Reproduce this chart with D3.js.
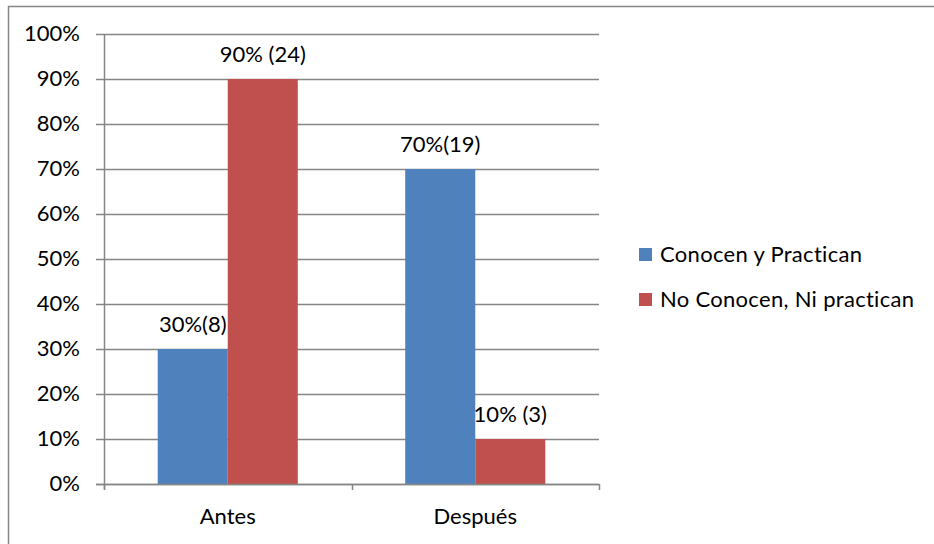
<!DOCTYPE html>
<html>
<head>
<meta charset="utf-8">
<script src="https://cdn.jsdelivr.net/npm/d3@7"></script>
<style>
  body { margin: 0; background: #fff; }
  text { font-family: Lato, "Open Sans", sans-serif; fill: #000; }
</style>
</head>
<body>
<div id="chart"></div>
<script>
// data
const categories = ["Antes", "Después"];
const seriesNames = ["Conocen y Practican", "No Conocen, Ni practican"];
const conocen = [0.30, 0.70];
const noConocen = [0.90, 0.10];
const conocenLabels = ["30%(8)", "70%(19)"];
const noConocenLabels = ["90% (24)", "10% (3)"];
const yTicks = [0, 0.1, 0.2, 0.3, 0.4, 0.5, 0.6, 0.7, 0.8, 0.9, 1.0];
const colors = ["#4F81BD", "#C0504D"];

const series = [
    {name: seriesNames[0], values: conocen, labels: conocenLabels},
    {name: seriesNames[1], values: noConocen, labels: noConocenLabels}
];

const W = 934, H = 544;
const margin = {top: 34, left: 104, right: 335, bottom: 60};
const width = W - margin.left - margin.right;
const height = H - margin.top - margin.bottom;
const fontSize = "22px";

let svg = d3.select("#chart").append("svg")
    .attr("width", W)
    .attr("height", H);

// outer chart border
svg.append("rect")
    .attr("x", 8.5).attr("y", 6.5)
    .attr("width", 940).attr("height", 560)
    .attr("fill", "none")
    .attr("stroke", "#868686")
    .attr("stroke-width", 1.5);

let g = svg.append("g")
    .attr("transform", `translate(${margin.left}, ${margin.top})`);

let xScale = d3.scaleBand()
    .domain(categories)
    .range([0, width])
    .paddingInner(0)
    .paddingOuter(0);

let xInner = d3.scaleBand()
    .domain(seriesNames)
    .range([xScale.bandwidth() * 0.217, xScale.bandwidth() * 0.783]);

let yScale = d3.scaleLinear()
    .domain([0, 1])
    .range([height, 0]);

// gridlines
g.append("g")
    .selectAll("line")
    .data(yTicks)
    .enter()
    .append("line")
    .attr("x1", -8)
    .attr("x2", width)
    .attr("y1", d => Math.round(yScale(d)) + 0.5)
    .attr("y2", d => Math.round(yScale(d)) + 0.5)
    .attr("stroke", "#868686")
    .attr("stroke-width", 1.5);

// y labels
g.append("g")
    .selectAll("text")
    .data(yTicks)
    .enter()
    .append("text")
    .attr("x", -24)
    .attr("y", d => yScale(d) + 7)
    .attr("text-anchor", "end")
    .style("font-size", fontSize)
    .text(d3.format(".0%"));

// bars
let groups = g.selectAll(".series")
    .data(series)
    .enter()
    .append("g")
    .attr("class", "series")
    .attr("fill", (d, i) => colors[i]);

groups.selectAll("rect")
    .data(s => s.values.map((v, i) => ({cat: categories[i], name: s.name, v: v})))
    .enter()
    .append("rect")
    .attr("x", d => xScale(d.cat) + xInner(d.name))
    .attr("y", d => yScale(d.v))
    .attr("width", xInner.bandwidth())
    .attr("height", d => height - yScale(d.v));

// data labels
groups.selectAll("text")
    .data(s => s.values.map((v, i) => ({cat: categories[i], name: s.name, v: v, label: s.labels[i]})))
    .enter()
    .append("text")
    .attr("x", d => xScale(d.cat) + xInner(d.name) + xInner.bandwidth() / 2)
    .attr("y", d => yScale(d.v) - 17)
    .attr("text-anchor", "middle")
    .style("font-size", fontSize)
    .style("fill", "#000")
    .text(d => d.label);

// y axis line
g.append("line")
    .attr("x1", 0.5).attr("x2", 0.5)
    .attr("y1", 0).attr("y2", height + 5)
    .attr("stroke", "#868686")
    .attr("stroke-width", 1.5);

// x axis
g.append("line")
    .attr("x1", -8).attr("x2", width)
    .attr("y1", height + 0.5).attr("y2", height + 0.5)
    .attr("stroke", "#868686")
    .attr("stroke-width", 1.5);

let xTicks = [0].concat(categories.map(c => xScale(c) + xScale.bandwidth()));
g.append("g")
    .selectAll("line")
    .data(xTicks)
    .enter()
    .append("line")
    .attr("x1", d => Math.round(d) + 0.5)
    .attr("x2", d => Math.round(d) + 0.5)
    .attr("y1", height)
    .attr("y2", height + 6)
    .attr("stroke", "#868686")
    .attr("stroke-width", 1.5);

g.append("g")
    .selectAll("text")
    .data(categories)
    .enter()
    .append("text")
    .attr("x", d => xScale(d) + xScale.bandwidth() / 2)
    .attr("y", height + 40)
    .attr("text-anchor", "middle")
    .style("font-size", fontSize)
    .text(d => d);

// legend
let legend = svg.append("g")
    .attr("transform", "translate(639, 248)");

let items = legend.selectAll("g")
    .data(seriesNames)
    .enter()
    .append("g")
    .attr("transform", (d, i) => `translate(0, ${i * 45})`);

items.append("rect")
    .attr("width", 13)
    .attr("height", 13)
    .attr("fill", (d, i) => colors[i]);

items.append("text")
    .attr("x", 21)
    .attr("y", 14)
    .style("font-size", fontSize)
    .style("letter-spacing", "0.3px")
    .text(d => d);
</script>
</body>
</html>
